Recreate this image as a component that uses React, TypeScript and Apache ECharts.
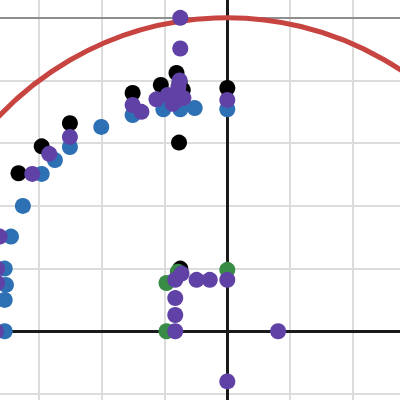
import React, { useEffect, useRef } from "react";
import * as echarts from "echarts";

// Visible window (graph units)
const X_MIN = -3.625;
const X_MAX = 2.754;
const Y_MIN = -1.096;
const Y_MAX = 5.284;

// Grid line positions
const xGridTicks = [-3, -2, -1, 1, 2];
const yGridTicks = [-1, 1, 2, 3, 4, 5];

// Horizontal reference line
const refLineY = [5];

// Circle x^2 + y^2 = r^2 : [cx, cy, r]
const circleData = [[0, 0, 5]];

// Point series
const blackPts = [
  [-3.33, 2.52], [-2.96, 2.95], [-2.51, 3.32], [-1.51, 3.8], [-1.06, 3.93],
  [-0.81, 4.12], [-0.71, 3.85], [-0.76, 3.97], [-0.77, 3.01], [0, 3.88], [-0.75, 1.0],
];
const bluePts = [
  [-3.55, 0], [-3.55, 0.5], [-3.53, 0.74], [-3.55, 1.0], [-3.45, 1.51], [-3.26, 2.0],
  [-2.96, 2.51], [-2.75, 2.73], [-2.51, 2.94], [-2.01, 3.26], [-1.51, 3.45],
  [-1.02, 3.54], [-0.75, 3.54], [-0.52, 3.56], [0, 3.54],
];
const greenPts = [[-0.97, 0.77], [-0.79, 0.95], [-0.97, 0], [0, 0.98]];
const purplePts = [
  [-3.69, 0], [-3.67, 0.77], [-3.67, 1.0], [-3.63, 1.51], [-3.11, 2.51], [-2.84, 2.83],
  [-2.51, 3.1], [-1.51, 3.61], [-1.37, 3.5], [-1.13, 3.7], [-0.95, 3.77], [-0.87, 3.63],
  [-0.78, 3.7], [-0.78, 3.9], [-0.76, 4.0], [-0.7, 3.72], [-0.75, 4.51], [-0.75, 5.0],
  [0, 3.69], [-0.83, 0.82], [-0.73, 0.92], [-0.49, 0.82], [-0.28, 0.82], [0, 0.82],
  [-0.83, 0.53], [-0.83, 0.26], [-0.83, 0.0], [0.81, 0], [0, -0.8],
];

export default function App() {
  const ref = useRef<HTMLDivElement>(null);
  useEffect(() => {
    if (!ref.current) return;
    const chart = echarts.init(ref.current, null, { renderer: "svg" });
    const noLabel = { show: false };
    const scatter = (data: number[][], color: string, z: number) => ({
      type: "scatter",
      data,
      symbol: "circle",
      symbolSize: 16,
      itemStyle: { color, opacity: 1 },
      z,
      clip: false,
      silent: true,
    });
    const lineSeries = (data: any[], color: string, width: number, z: number) => ({
      type: "scatter",
      data: [],
      z,
      silent: true,
      markLine: {
        z,
        silent: true,
        symbol: ["none", "none"],
        label: noLabel,
        animation: false,
        lineStyle: { color, width, type: "solid" },
        emphasis: { disabled: true },
        data,
      },
    });
    chart.setOption({
      animation: false,
      backgroundColor: "#ffffff",
      grid: { left: 0, right: 0, top: 0, bottom: 0 },
      xAxis: { type: "value", min: X_MIN, max: X_MAX, show: false },
      yAxis: { type: "value", min: Y_MIN, max: Y_MAX, show: false },
      series: [
        lineSeries(
          [...xGridTicks.map((v) => ({ xAxis: v })), ...yGridTicks.map((v) => ({ yAxis: v }))],
          "#dcdcdc",
          2,
          1
        ),
        lineSeries(refLineY.map((v) => ({ yAxis: v })), "#8e8e8e", 2, 2),
        lineSeries([{ xAxis: 0 }, { yAxis: 0 }], "#1a1a1a", 3, 3),
        {
          type: "custom",
          z: 4,
          silent: true,
          data: circleData,
          encode: { x: 0, y: 1 },
          renderItem: (params: any, api: any) => {
            const c = api.coord([api.value(0), api.value(1)]);
            const r = api.size([api.value(2), 0])[0];
            return {
              type: "circle",
              shape: { cx: c[0], cy: c[1], r },
              style: { fill: "none", stroke: "#c74440", lineWidth: 5 },
            };
          },
        },
        scatter(blackPts, "#000000", 5),
        scatter(bluePts, "#2d70b3", 6),
        scatter(greenPts, "#388c46", 7),
        scatter(purplePts, "#6042a6", 8),
      ],
    });
    return () => chart.dispose();
  }, []);
  return (
    <div
      ref={ref}
      style={{ position: "absolute", left: 0, top: 0, width: 400, height: 400 }}
    />
  );
}
